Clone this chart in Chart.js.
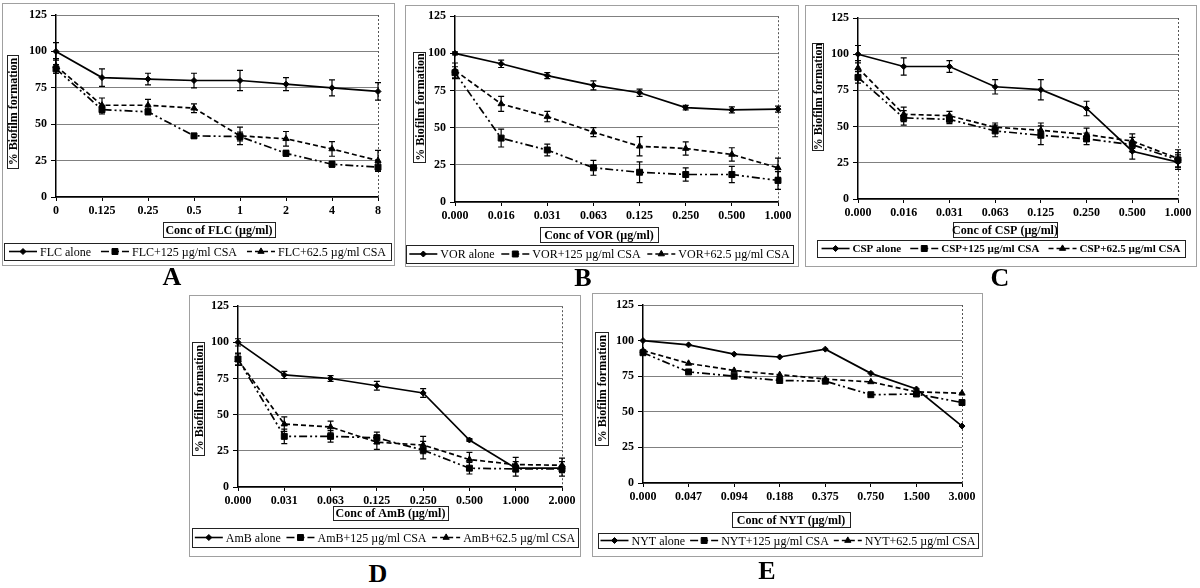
<!DOCTYPE html>
<html><head><meta charset="utf-8">
<script src="https://cdn.jsdelivr.net/npm/chart.js@4/dist/chart.umd.min.js"></script>
<style>
body{margin:0;background:#fff;width:1200px;height:588px;overflow:hidden;position:relative;font-family:'Liberation Serif','Times New Roman',serif}
.panel{position:absolute;border:1px solid #a0a0a0;box-sizing:border-box;background:#fff}
canvas{position:absolute}
.lbl{position:absolute;font-weight:bold;font-size:26px;line-height:1;transform:translateX(-50%);color:#000}
</style></head><body>
<script>
// ---------- DATA ----------
const yTickValues = [0, 25, 50, 75, 100, 125];

const catsA = ['0', '0.125', '0.25', '0.5', '1', '2', '4', '8'];
const flcAlone = [100, 82, 81, 80, 80, 77.5, 75, 72.5];
const flcAloneErr = [6, 6, 4, 5, 7, 4.5, 5.5, 6];
const flc125 = [88, 60, 58.5, 42, 41.5, 30, 22.5, 20.5];
const flc125Err = [3, 3, 2, 1.5, 3, 2, 2, 3];
const flc625 = [90, 63, 63, 61, 42, 40, 33, 25];
const flc625Err = [5, 5, 4, 3, 6, 5, 5, 7];

const catsB = ['0.000', '0.016', '0.031', '0.063', '0.125', '0.250', '0.500', '1.000'];
const vorAlone = [100, 93, 85, 78.5, 73.5, 63.5, 62, 62.5];
const vorAloneErr = [1, 2.5, 2, 3, 2.5, 1.5, 2, 2];
const vor125 = [87, 43, 35, 23, 20, 18.5, 18.5, 14.5];
const vor125Err = [4, 6, 4, 5, 7, 4.5, 5.5, 6];
const vor625 = [88.5, 66, 57.5, 47, 37.5, 36, 32, 23];
const vor625Err = [5, 5, 3.5, 3, 6.5, 4.5, 4.5, 6.5];

const catsC = ['0.000', '0.016', '0.031', '0.063', '0.125', '0.250', '0.500', '1.000'];
const cspAlone = [100, 91.5, 91.5, 77.5, 75.5, 62.5, 33, 25.5];
const cspAloneErr = [6, 6, 4, 5, 7, 5, 5.5, 5];
const csp125 = [84, 56, 55, 47, 44, 41.5, 37.5, 27];
const csp125Err = [4, 5, 3, 4, 6.5, 4, 5, 5];
const csp625 = [90.5, 58.5, 57.5, 49.5, 47.5, 44.5, 40, 28];
const csp625Err = [5, 5, 3, 3, 5, 4.5, 5, 6];

const catsD = ['0.000', '0.031', '0.063', '0.125', '0.250', '0.500', '1.000', '2.000'];
const ambAlone = [100, 77.5, 75, 70, 65, 32.5, 13, 13];
const ambAloneErr = [2.5, 2.5, 2, 3, 3, 1, 2, 2];
const amb125 = [88.5, 35, 35, 34, 25.5, 13, 12.5, 12.5];
const amb125Err = [4, 5, 4, 4, 6, 4, 5, 5];
const amb625 = [88, 43.5, 41.5, 31, 29, 19, 15.5, 15];
const amb625Err = [4, 5, 4, 5, 6, 5, 5, 5];

const catsE = ['0.000', '0.047', '0.094', '0.188', '0.375', '0.750', '1.500', '3.000'];
const nytAlone = [100, 97, 90.5, 88.5, 94, 77, 66, 40];
const nyt125 = [91.5, 78, 75, 72, 71.5, 62, 62.5, 56.5];
const nyt625 = [93, 84, 79, 76, 73, 71, 64, 63];

// ---------- STYLE / LAYOUT ----------
const FONT = "'Liberation Serif','Times New Roman',serif";
const STY = {
  alone: {dash: [], ps: 'rectRot', pr: 3},
  c125: {dash: [8, 3, 2, 3, 2, 3], ps: 'rect', pr: 4.2},
  c625: {dash: [5, 3], ps: 'triangle', pr: 3.6}
};

const decor = {
  id: 'decor',
  beforeDatasetsDraw(chart) {
    const ctx = chart.ctx, xs = chart.scales.x, a = chart.chartArea;
    const x = xs.getPixelForValue(chart.data.labels.length - 1);
    ctx.save();
    ctx.strokeStyle = '#555'; ctx.lineWidth = 1; ctx.setLineDash([2, 2]);
    ctx.beginPath(); ctx.moveTo(Math.round(x) + 0.5, a.top); ctx.lineTo(Math.round(x) + 0.5, a.bottom); ctx.stroke();
    ctx.restore();
  },
  afterDatasetsDraw(chart) {
    const ctx = chart.ctx, y = chart.scales.y;
    chart.data.datasets.forEach((ds, i) => {
      if (!ds.err) return;
      const meta = chart.getDatasetMeta(i);
      meta.data.forEach((pt, j) => {
        const e = ds.err[j]; if (!e) return;
        const v = ds.data[j];
        const y1 = y.getPixelForValue(v + e), y2 = y.getPixelForValue(v - e);
        ctx.save(); ctx.strokeStyle = '#000'; ctx.lineWidth = 1.2; ctx.setLineDash([]);
        ctx.beginPath();
        ctx.moveTo(pt.x, y1); ctx.lineTo(pt.x, y2);
        ctx.moveTo(pt.x - 3, y1); ctx.lineTo(pt.x + 3, y1);
        ctx.moveTo(pt.x - 3, y2); ctx.lineTo(pt.x + 3, y2);
        ctx.stroke(); ctx.restore();
      });
    });
  },
  afterDraw(chart, args, o) {
    const c = o.cfg, P = c.box, ctx = chart.ctx;
    const wt = c.bold ? 'bold ' : '';
    ctx.save();
    ctx.setLineDash([]);
    // y title
    let r = c.yt;
    ctx.fillStyle = '#fff'; ctx.strokeStyle = '#222'; ctx.lineWidth = 1;
    ctx.fillRect(r.l - P.l, r.t - P.t, r.r - r.l, r.b - r.t);
    ctx.strokeRect(r.l - P.l + 0.5, r.t - P.t + 0.5, r.r - r.l, r.b - r.t);
    ctx.save();
    ctx.translate((r.l + r.r) / 2 - P.l + 0.5, (r.t + r.b) / 2 - P.t);
    ctx.rotate(-Math.PI / 2);
    ctx.fillStyle = '#000'; ctx.font = 'bold 12px ' + FONT; ctx.textAlign = 'center'; ctx.textBaseline = 'middle';
    ctx.fillText(c.yTitle, 0, 1);
    ctx.restore();
    // x title
    r = c.xt;
    ctx.fillStyle = '#fff';
    ctx.fillRect(r.l - P.l, r.t - P.t, r.r - r.l, r.b - r.t);
    ctx.strokeRect(r.l - P.l + 0.5, r.t - P.t + 0.5, r.r - r.l, r.b - r.t);
    ctx.fillStyle = '#000'; ctx.font = 'bold 12px ' + FONT; ctx.textAlign = 'center'; ctx.textBaseline = 'middle';
    ctx.fillText(c.xTitle, (r.l + r.r) / 2 - P.l, (r.t + r.b) / 2 - P.t + 1);
    // legend
    r = c.lg;
    ctx.fillStyle = '#fff';
    ctx.fillRect(r.l - P.l, r.t - P.t, r.r - r.l, r.b - r.t);
    ctx.strokeRect(r.l - P.l + 0.5, r.t - P.t + 0.5, r.r - r.l, r.b - r.t);
    ctx.font = wt + (c.bold ? '11px ' : '12px ') + FONT;
    const SW = 28, G = 3;
    const ws = chart.data.datasets.map(d => ctx.measureText(d.label).width);
    const total = ws.reduce((s, w) => s + SW + G + w, 0);
    const gap = ((r.r - r.l) - total) / 3;
    let x = r.l - P.l + gap / 2;
    const yy = (r.t + r.b) / 2 - P.t;
    chart.data.datasets.forEach((d, i) => {
      ctx.strokeStyle = '#000'; ctx.lineWidth = 1.6; ctx.setLineDash(d.borderDash || []);
      ctx.beginPath(); ctx.moveTo(x, yy); ctx.lineTo(x + SW, yy); ctx.stroke();
      ctx.setLineDash([]);
      ctx.fillStyle = '#000'; ctx.lineWidth = 1;
      Chart.helpers.drawPoint(ctx, {pointStyle: d.pointStyle, radius: d.pointRadius, borderWidth: 1}, x + SW / 2, yy);
      ctx.fillStyle = '#000'; ctx.textAlign = 'left'; ctx.textBaseline = 'middle';
      ctx.fillText(d.label, x + SW + G, yy + 1);
      x += SW + G + ws[i] + gap;
    });
    ctx.restore();
  }
};

function build(c) {
  const P = c.box;
  const W = P.r - P.l, H = P.b - P.t;
  const div = document.createElement('div');
  div.className = 'panel';
  Object.assign(div.style, {left: P.l + 'px', top: P.t + 'px', width: W + 'px', height: H + 'px'});
  const cv = document.createElement('canvas');
  cv.width = W; cv.height = H;
  Object.assign(cv.style, {left: P.l + 'px', top: P.t + 'px', width: W + 'px', height: H + 'px'});
  const lb = document.createElement('div');
  lb.className = 'lbl'; lb.textContent = c.letter;
  Object.assign(lb.style, {left: c.letterPos[0] + 'px', top: c.letterPos[1] + 'px'});
  document.body.append(div, cv, lb);
  const tickFont = {family: FONT, size: 12, weight: 'bold'};
  new Chart(cv, {
    type: 'line',
    data: {
      labels: c.cats,
      datasets: c.series.map(s => ({
        label: s.name, data: s.data, err: s.err,
        borderColor: '#000', backgroundColor: '#000', borderWidth: 1.7,
        borderDash: s.sty.dash, pointStyle: s.sty.ps, pointRadius: s.sty.pr,
        pointBackgroundColor: '#000', pointBorderColor: '#000', pointBorderWidth: 1,
        tension: 0, clip: false, fill: false
      }))
    },
    options: {
      responsive: false, animation: false, devicePixelRatio: 1,
      layout: {padding: {top: c.plot.t - P.t, right: P.r - c.plot.r, left: 0, bottom: 0}},
      plugins: {legend: {display: false}, tooltip: {enabled: false}, decor: {cfg: c}},
      scales: {
        x: {
          type: 'category', offset: false,
          grid: {drawOnChartArea: false, drawTicks: true, tickLength: 4, tickColor: '#000', color: '#000'},
          border: {display: true, color: '#000', width: 1.5},
          ticks: {font: tickFont, color: '#000', padding: 3, maxRotation: 0, autoSkip: false},
          afterFit(s) { s.height = P.b - c.plot.b; }
        },
        y: {
          min: 0, max: 125,
          afterBuildTicks(s) { s.ticks = yTickValues.map(v => ({value: v})); },
          grid: {color: '#808080', lineWidth: 1, tickLength: 5, tickColor: '#000'},
          border: {display: true, color: '#000', width: 1.5},
          ticks: {font: tickFont, color: '#000', padding: 4},
          afterFit(s) { s.width = c.plot.l - P.l; }
        }
      }
    },
    plugins: [decor]
  });
}

build({
  letter: 'A', letterPos: [172, 264], bold: false,
  box: {l: 2, t: 3, r: 395, b: 266}, plot: {l: 56, t: 15, r: 378, b: 197},
  xt: {l: 163, t: 222, r: 275, b: 237}, yt: {l: 7, t: 55, r: 18, b: 168}, lg: {l: 4, t: 243, r: 391, b: 260},
  xTitle: 'Conc of FLC (µg/ml)', yTitle: '% Biofilm formation', cats: catsA,
  series: [
    {name: 'FLC alone', data: flcAlone, err: flcAloneErr, sty: STY.alone},
    {name: 'FLC+125 µg/ml CSA', data: flc125, err: flc125Err, sty: STY.c125},
    {name: 'FLC+62.5 µg/ml CSA', data: flc625, err: flc625Err, sty: STY.c625}
  ]
});
build({
  letter: 'B', letterPos: [583, 265], bold: false,
  box: {l: 405, t: 5, r: 799, b: 267}, plot: {l: 455, t: 16, r: 778, b: 202},
  xt: {l: 540, t: 227, r: 658, b: 242}, yt: {l: 413, t: 52, r: 425, b: 162}, lg: {l: 406, t: 245, r: 793, b: 263},
  xTitle: 'Conc of VOR (µg/ml)', yTitle: '% Biofilm formation', cats: catsB,
  series: [
    {name: 'VOR alone', data: vorAlone, err: vorAloneErr, sty: STY.alone},
    {name: 'VOR+125 µg/ml CSA', data: vor125, err: vor125Err, sty: STY.c125},
    {name: 'VOR+62.5 µg/ml CSA', data: vor625, err: vor625Err, sty: STY.c625}
  ]
});
build({
  letter: 'C', letterPos: [1000, 265], bold: true,
  box: {l: 805, t: 5, r: 1197, b: 267}, plot: {l: 858, t: 18, r: 1178, b: 199},
  xt: {l: 953, t: 222, r: 1057, b: 237}, yt: {l: 812, t: 43, r: 823, b: 150}, lg: {l: 817, t: 240, r: 1185, b: 257},
  xTitle: 'Conc of CSP (µg/ml)', yTitle: '% Biofilm formation', cats: catsC,
  series: [
    {name: 'CSP alone', data: cspAlone, err: cspAloneErr, sty: STY.alone},
    {name: 'CSP+125 µg/ml CSA', data: csp125, err: csp125Err, sty: STY.c125},
    {name: 'CSP+62.5 µg/ml CSA', data: csp625, err: csp625Err, sty: STY.c625}
  ]
});
build({
  letter: 'D', letterPos: [378, 561], bold: false,
  box: {l: 189, t: 295, r: 581, b: 557}, plot: {l: 238, t: 305, r: 562, b: 487},
  xt: {l: 333, t: 506, r: 448, b: 520}, yt: {l: 192, t: 342, r: 204, b: 455}, lg: {l: 192, t: 528, r: 578, b: 547},
  xTitle: 'Conc of AmB (µg/ml)', yTitle: '% Biofilm formation', cats: catsD,
  series: [
    {name: 'AmB alone', data: ambAlone, err: ambAloneErr, sty: STY.alone},
    {name: 'AmB+125 µg/ml CSA', data: amb125, err: amb125Err, sty: STY.c125},
    {name: 'AmB+62.5 µg/ml CSA', data: amb625, err: amb625Err, sty: STY.c625}
  ]
});
build({
  letter: 'E', letterPos: [767, 558], bold: false,
  box: {l: 592, t: 293, r: 983, b: 557}, plot: {l: 643, t: 305, r: 962, b: 483},
  xt: {l: 732, t: 512, r: 850, b: 527}, yt: {l: 595, t: 332, r: 608, b: 445}, lg: {l: 598, t: 533, r: 978, b: 548},
  xTitle: 'Conc of NYT (µg/ml)', yTitle: '% Biofilm formation', cats: catsE,
  series: [
    {name: 'NYT alone', data: nytAlone, err: null, sty: STY.alone},
    {name: 'NYT+125 µg/ml CSA', data: nyt125, err: null, sty: STY.c125},
    {name: 'NYT+62.5 µg/ml CSA', data: nyt625, err: null, sty: STY.c625}
  ]
});
</script>
</body></html>
